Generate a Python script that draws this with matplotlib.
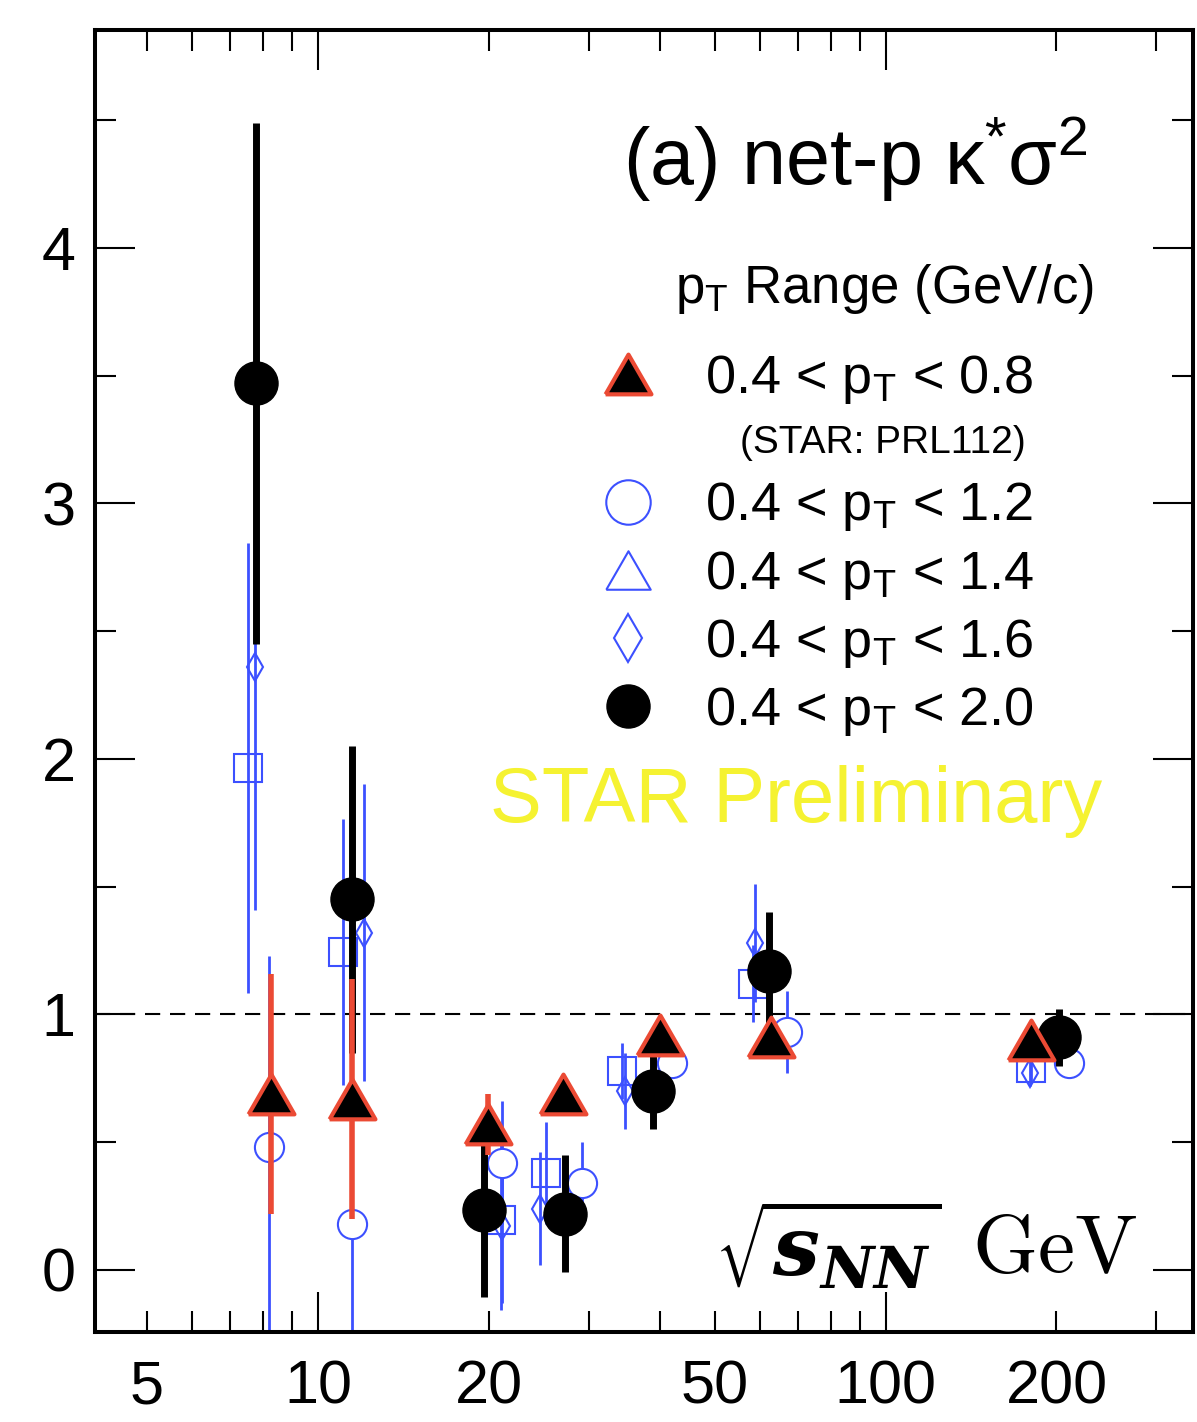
import matplotlib
matplotlib.use("Agg")
import matplotlib.pyplot as plt
import matplotlib as mpl
from matplotlib.lines import Line2D
from matplotlib.ticker import FixedLocator, FuncFormatter, MultipleLocator

mpl.rcParams.update({
    'font.family': 'Liberation Sans',
    'mathtext.fontset': 'custom',
    'mathtext.rm': 'Liberation Sans',
    'mathtext.it': 'Liberation Sans:italic',
    'mathtext.bf': 'Liberation Sans:bold',
    'axes.linewidth': 2.9,
})

# 0.4 < pT < 0.8 (STAR PRL112)
x_08 = [8.28, 11.5, 19.9, 27.0, 40.0, 62.7, 180]
y_08 = [0.69, 0.67, 0.57, 0.69, 0.92, 0.91, 0.90]
e_08 = [0.47, 0.47, 0.12, 0.05, 0.04, 0.04, 0.04]

# 0.4 < pT < 1.2
x_12 = [8.2, 11.5, 21.1, 29.2, 42.1, 67.0, 210]
y_12 = [0.48, 0.18, 0.42, 0.34, 0.81, 0.93, 0.81]
e_12 = [0.75, 0.55, 0.24, 0.16, 0.05, 0.16, 0.04]

# 0.4 < pT < 1.4
x_14 = [7.52, 11.05, 21.0, 25.2, 34.4, 58.4, 180]
y_14 = [1.965, 1.245, 0.195, 0.38, 0.78, 1.12, 0.79]
e_14 = [0.88, 0.52, 0.35, 0.20, 0.11, 0.15, 0.05]

# 0.4 < pT < 1.6
x_16 = [7.76, 12.08, 21.1, 24.6, 34.8, 58.9, 179.6]
y_16 = [2.36, 1.32, 0.17, 0.24, 0.70, 1.28, 0.77]
e_16 = [0.95, 0.58, 0.30, 0.22, 0.15, 0.23, 0.05]

# 0.4 < pT < 2.0
x_20 = [7.78, 11.5, 19.6, 27.2, 38.9, 62.3, 202]
y_20 = [3.47, 1.45, 0.235, 0.22, 0.70, 1.17, 0.91]
e_20 = [1.02, 0.60, 0.34, 0.23, 0.15, 0.23, 0.11]

blue = "#3c50ff"
red = "#eb4a34"
tri = [(-1, -0.866), (1, -0.866), (0, 0.866), (-1, -0.866)]

fig = plt.figure(figsize=(11.97, 14.22), dpi=100)
ax = fig.add_axes([0.0794, 0.0633, 0.9173, 0.9156])

ax.axhline(1, color='black', lw=1.5, dashes=(7.3, 4.7), zorder=1)

ax.errorbar(x_14, y_14, yerr=e_14, fmt='s', ms=20, mfc='none', mec=blue, mew=1.5,
            ecolor=blue, elinewidth=2, capsize=0, zorder=2)
ax.errorbar(x_16, y_16, yerr=e_16, fmt='d', ms=14, mfc='none', mec=blue, mew=1.5,
            ecolor=blue, elinewidth=2, capsize=0, zorder=2)
ax.errorbar(x_12, y_12, yerr=e_12, fmt='o', ms=21, mfc='white', mec=blue, mew=1.5,
            ecolor=blue, elinewidth=2, capsize=0, zorder=2.2)
ax.errorbar(x_20, y_20, yerr=e_20, fmt='o', ms=31, color='black',
            elinewidth=5, capsize=0, zorder=3)
ax.errorbar(x_08, y_08, yerr=e_08, fmt='none', ecolor=red, elinewidth=4, capsize=0, zorder=3.5)
ax.plot(x_08, y_08, linestyle='none', marker=tri, ms=33, mfc='black', mec=red, mew=3, zorder=4)

ax.set_xscale('log')
ax.set_xlim(4.05, 348)
ax.set_ylim(-0.243, 4.853)

ax.xaxis.set_major_locator(FixedLocator([10, 100]))
ax.xaxis.set_minor_locator(FixedLocator([5, 6, 7, 8, 9, 20, 30, 40, 50, 60, 70, 80, 90, 200, 300]))
ax.xaxis.set_major_formatter(FuncFormatter(lambda v, _: f"{v:g}"))
ax.xaxis.set_minor_formatter(FuncFormatter(lambda v, _: f"{v:g}" if v in (5, 20, 50, 200) else ""))
ax.yaxis.set_major_locator(MultipleLocator(1))
ax.yaxis.set_minor_locator(MultipleLocator(0.5))

ax.tick_params(which='both', direction='in', top=True, right=True, width=1.5, labelsize=44)
ax.tick_params(which='major', length=29)
ax.tick_params(which='minor', length=15)
ax.tick_params(axis='x', which='both', pad=20)
ax.tick_params(axis='y', which='both', pad=14)

ax.text(0.904, 0.881, r"(a) net-p κ$^{*}$σ$^{2}$", transform=ax.transAxes,
        ha='right', va='baseline', fontsize=57)
ax.text(0.910, 0.790, r"p$_\mathregular{T}$ Range (GeV/c)", transform=ax.transAxes,
        ha='right', va='baseline', fontsize=38)
ax.text(0.587, 0.675, "(STAR: PRL112)", transform=ax.transAxes,
        ha='left', va='baseline', fontsize=28)
ax.text(0.36, 0.392, "STAR Preliminary", transform=ax.transAxes,
        ha='left', va='baseline', fontsize=56, color='#f5f231')
ax.text(0.771, 0.043, r"$\sqrt{\mathbfit{s}_{\mathbfit{NN}}}$", transform=ax.transAxes,
        ha='right', va='baseline', fontsize=60, math_fontfamily='dejavuserif')
ax.text(0.799, 0.046, r"$\mathrm{GeV}$", transform=ax.transAxes,
        ha='left', va='baseline', fontsize=60, math_fontfamily='cm')

leg_kw = dict(loc='upper left', frameon=False, fontsize=39, handlelength=1.0,
              handletextpad=0.92, borderpad=0, borderaxespad=0)

h_08 = [Line2D([], [], linestyle='none', marker=tri, ms=33, mfc='black', mec=red, mew=3)]
leg1 = ax.legend(h_08, [r"0.4 < p$_\mathregular{T}$ < 0.8"], bbox_to_anchor=(0.461, 0.752), **leg_kw)
ax.add_artist(leg1)

handles = [
    Line2D([], [], linestyle='none', marker='o', ms=32, mfc='none', mec=blue, mew=1.5),
    Line2D([], [], linestyle='none', marker=tri, ms=32, mfc='none', mec=blue, mew=1.5),
    Line2D([], [], linestyle='none', marker='d', ms=24, mfc='none', mec=blue, mew=1.5),
    Line2D([], [], linestyle='none', marker='o', ms=31, color='black'),
]
labels = [
    r"0.4 < p$_\mathregular{T}$ < 1.2",
    r"0.4 < p$_\mathregular{T}$ < 1.4",
    r"0.4 < p$_\mathregular{T}$ < 1.6",
    r"0.4 < p$_\mathregular{T}$ < 2.0",
]
ax.legend(handles, labels, bbox_to_anchor=(0.461, 0.654), labelspacing=0.28, **leg_kw)

plt.savefig("out.png", dpi=100)
